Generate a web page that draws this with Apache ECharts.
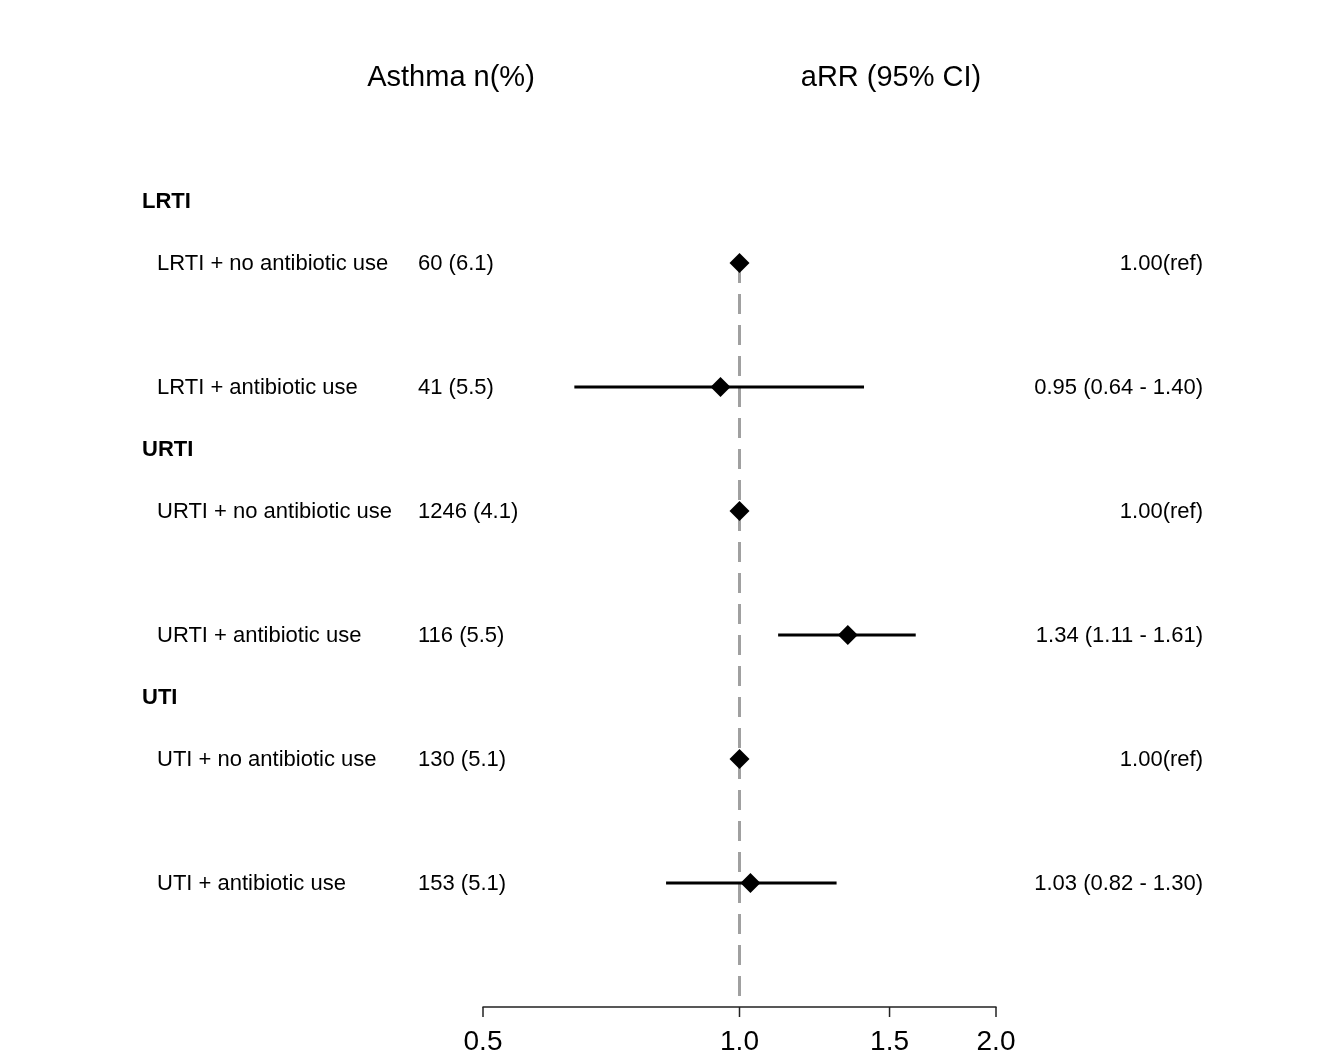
<!DOCTYPE html>
<html>
<head>
<meta charset="utf-8">
<script src="https://cdn.jsdelivr.net/npm/echarts@6/dist/echarts.min.js"></script>
<style>
html,body{margin:0;padding:0;background:#fff;}
#main{width:1325px;height:1061px;}
</style>
</head>
<body>
<div id="main"></div>
<script>
// ---- data ----
const groupNames = ['LRTI', 'URTI', 'UTI'];
const groupRows = [0, 4, 8];
const rowLabels = ['LRTI + no antibiotic use', 'LRTI + antibiotic use',
                   'URTI + no antibiotic use', 'URTI + antibiotic use',
                   'UTI + no antibiotic use', 'UTI + antibiotic use'];
const rowPos = [1, 3, 5, 7, 9, 11];
const asthmaN = ['60 (6.1)', '41 (5.5)', '1246 (4.1)', '116 (5.5)', '130 (5.1)', '153 (5.1)'];
const aRR = [1.00, 0.95, 1.00, 1.34, 1.00, 1.03];
const ciLower = [null, 0.64, null, 1.11, null, 0.82];
const ciUpper = [null, 1.40, null, 1.61, null, 1.30];
const aRRLabels = ['1.00(ref)', '0.95 (0.64 - 1.40)', '1.00(ref)', '1.34 (1.11 - 1.61)', '1.00(ref)', '1.03 (0.82 - 1.30)'];
const tickValues = [0.5, 1.0, 1.5, 2.0];
const tickLabels = ['0.5', '1.0', '1.5', '2.0'];
const refValue = 1.0;
const headers = ['Asthma n(%)', 'aRR (95% CI)'];

const FONT = '"Liberation Sans", Arial, sans-serif';
const yMin = -1, yMax = 13;

const chart = echarts.init(document.getElementById('main'), null, {renderer: 'canvas'});

const option = {
  backgroundColor: '#ffffff',
  animation: false,
  grid: {left: 483, right: 329, top: 139, bottom: 54, containLabel: false},
  xAxis: {
    type: 'log', logBase: 2, min: 0.5, max: 2,
    axisLine: {show: true, onZero: false, lineStyle: {color: '#222', width: 1.5}},
    axisTick: {show: false}, axisLabel: {show: false}, splitLine: {show: false}
  },
  yAxis: {
    type: 'value', inverse: true, min: yMin, max: yMax,
    show: false, splitLine: {show: false}
  },
  graphic: [
    {type: 'text', x: 451, y: 78, style: {text: headers[0], font: '29px ' + FONT, fill: '#000', align: 'center', verticalAlign: 'middle'}},
    {type: 'text', x: 891, y: 78, style: {text: headers[1], font: '29px ' + FONT, fill: '#000', align: 'center', verticalAlign: 'middle'}}
  ],
  series: [
    // reference dashed line
    {
      type: 'line', data: [[refValue, rowPos[0]], [refValue, yMax]],
      symbol: 'none', silent: true, z: 1,
      lineStyle: {color: '#a0a0a0', width: 3, type: [20, 11]}
    },
    // CI whiskers
    {
      type: 'custom', z: 2, clip: false,
      data: rowPos.map((p, i) => [ciLower[i], ciUpper[i], p]).filter(d => d[0] != null),
      renderItem: function (params, api) {
        const a = api.coord([api.value(0), api.value(2)]);
        const b = api.coord([api.value(1), api.value(2)]);
        return {type: 'line', shape: {x1: a[0], y1: a[1], x2: b[0], y2: b[1]},
                style: {stroke: '#000', lineWidth: 3}};
      }
    },
    // point estimates
    {
      type: 'scatter', z: 3, symbol: 'diamond', symbolSize: 20,
      itemStyle: {color: '#000', opacity: 1},
      data: rowPos.map((p, i) => [aRR[i], p])
    },
    // table text for rows
    {
      type: 'custom', z: 4, clip: false, silent: true,
      data: rowPos.map((p, i) => [refValue, p, i]),
      renderItem: function (params, api) {
        const i = api.value(2);
        const y = api.coord([refValue, api.value(1)])[1] + 1;
        return {type: 'group', children: [
          {type: 'text', style: {x: 157, y: y, text: rowLabels[i], font: '22px ' + FONT, fill: '#000', align: 'left', verticalAlign: 'middle'}},
          {type: 'text', style: {x: 418, y: y, text: asthmaN[i], font: '22px ' + FONT, fill: '#000', align: 'left', verticalAlign: 'middle'}},
          {type: 'text', style: {x: 1203, y: y, text: aRRLabels[i], font: '22px ' + FONT, fill: '#000', align: 'right', verticalAlign: 'middle'}}
        ]};
      }
    },
    // group headers
    {
      type: 'custom', z: 4, clip: false, silent: true,
      data: groupRows.map((p, i) => [refValue, p, i]),
      renderItem: function (params, api) {
        const i = api.value(2);
        const y = api.coord([refValue, api.value(1)])[1] + 1;
        return {type: 'text', style: {x: 142, y: y, text: groupNames[i], font: 'bold 22px ' + FONT, fill: '#000', align: 'left', verticalAlign: 'middle'}};
      }
    },
    // axis ticks and labels
    {
      type: 'custom', z: 4, clip: false, silent: true,
      data: tickValues.map((v, i) => [v, yMax, i]),
      renderItem: function (params, api) {
        const p = api.coord([api.value(0), api.value(1)]);
        const i = api.value(2);
        return {type: 'group', children: [
          {type: 'line', shape: {x1: p[0], y1: p[1], x2: p[0], y2: p[1] + 10}, style: {stroke: '#222', lineWidth: 1.5}},
          {type: 'text', style: {x: p[0], y: p[1] + 35, text: tickLabels[i], font: '28px ' + FONT, fill: '#000', align: 'center', verticalAlign: 'middle'}}
        ]};
      }
    }
  ]
};
chart.setOption(option);
</script>
</body>
</html>
